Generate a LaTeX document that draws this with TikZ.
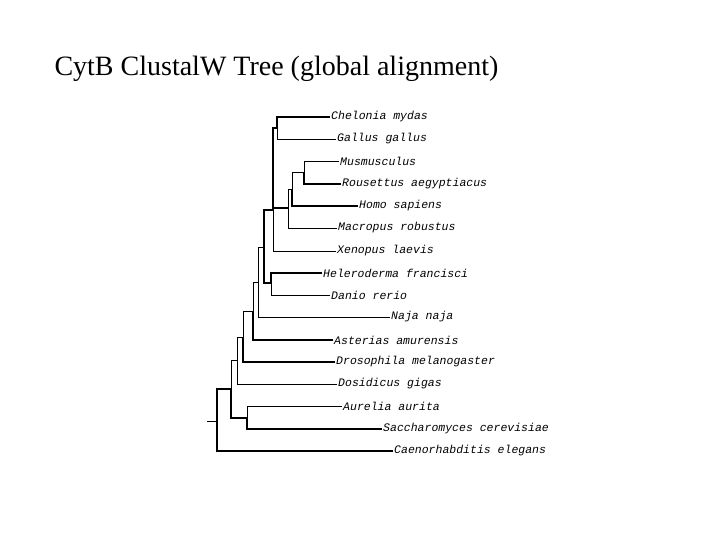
\documentclass[tikz,border=0pt]{standalone}
\usepackage{fontspec}
\setmainfont{Liberation Serif}
\newfontfamily\leaffont{Liberation Mono}
\begin{document}
\begin{tikzpicture}[x=1pt,y=-1pt,
  leaf/.style={anchor=west,inner sep=1pt,font=\leaffont\itshape\fontsize{11.5}{12}\selectfont},
  br/.style={line width=0.8pt},
  tk/.style={line width=2pt}]
\useasboundingbox (0,0) rectangle (720,540);
\node[anchor=base west,font=\fontsize{28}{30}\selectfont] (title) at (51,76) {CytB ClustalW Tree (global alignment)};
% leaves
\node[leaf] (l1) at (330,117) {Chelonia mydas};
\node[leaf] (l2) at (336,139) {Gallus gallus};
\node[leaf] (l3) at (339,161) {Musmusculus};
\node[leaf] (l4) at (341,184) {Rousettus aegyptiacus};
\node[leaf] (l5) at (358,206) {Homo sapiens};
\node[leaf] (l6) at (337,228) {Macropus robustus};
\node[leaf] (l7) at (336,251) {Xenopus laevis};
\node[leaf] (l8) at (322,273) {Heleroderma francisci};
\node[leaf] (l9) at (330,295) {Danio rerio};
\node[leaf] (l10) at (390,317) {Naja naja};
\node[leaf] (l11) at (333,340) {Asterias amurensis};
\node[leaf] (l12) at (335,362) {Drosophila melanogaster};
\node[leaf] (l13) at (337,384) {Dosidicus gigas};
\node[leaf] (l14) at (342,406) {Aurelia aurita};
\node[leaf] (l15) at (382,429) {Saccharomyces cerevisiae};
\node[leaf] (l16) at (393,451) {Caenorhabditis elegans};
% internal nodes
\coordinate (A) at (277,128);
\coordinate (B) at (304,172);
\coordinate (C) at (292,189);
\coordinate (D) at (288,208);
\coordinate (E) at (273,210);
\coordinate (F) at (271,283);
\coordinate (G) at (264,247);
\coordinate (H) at (258,282);
\coordinate (I) at (253,311);
\coordinate (J) at (243,337);
\coordinate (K) at (237,360);
\coordinate (L) at (247,418);
\coordinate (M) at (231,389);
\coordinate (N) at (217,421);
\coordinate (root) at (207,421);
\draw[tk] (l1.west) -| (A);
\draw[br] (l2.west) -| (A);
\draw[br] (l3.west) -| (B);
\draw[tk] (l4.west) -| (B);
\draw[br] (B) -| (C);
\draw[tk] (l5.west) -| (C);
\draw[br] (C) -| (D);
\draw[br] (l6.west) -| (D);
\draw[tk] (A) -| (E);
\draw[tk] (D) -| (E);
\draw[br] (l7.west) -| (E);
\draw[tk] (l8.west) -| (F);
\draw[br] (l9.west) -| (F);
\draw[tk] (E) -| (G);
\draw[tk] (F) -| (G);
\draw[br] (G) -| (H);
\draw[br] (l10.west) -| (H);
\draw[br] (H) -| (I);
\draw[tk] (l11.west) -| (I);
\draw[br] (I) -| (J);
\draw[tk] (l12.west) -| (J);
\draw[br] (J) -| (K);
\draw[br] (l13.west) -| (K);
\draw[br] (l14.west) -| (L);
\draw[tk] (l15.west) -| (L);
\draw[br] (K) -| (M);
\draw[tk] (L) -| (M);
\draw[tk] (M) -| (N);
\draw[tk] (l16.west) -| (N);
\draw[br] (root) -- (N);
\end{tikzpicture}
\end{document}
